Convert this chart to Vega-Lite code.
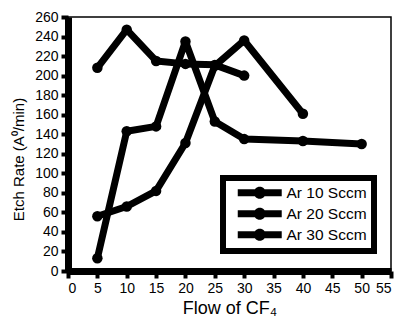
{
  "$schema": "https://vega.github.io/schema/vega-lite/v6.json",
  "autosize": {"type": "none"},
  "padding": {"left": 68, "top": 17, "right": 11, "bottom": 58},
  "width": 323,
  "height": 254,
  "background": "white",
  "config": {
    "font": "Liberation Sans",
    "view": {"stroke": "black", "strokeWidth": 1.5},
    "axis": {"grid": false, "domainColor": "black", "tickColor": "black", "labelColor": "black", "titleColor": "black", "labelFont": "Liberation Sans", "titleFont": "Liberation Sans", "titleFontWeight": "normal"}
  },
  "data": {"values": [
    {"s": "Ar 10 Sccm", "x": 5, "y": 208},
    {"s": "Ar 10 Sccm", "x": 10, "y": 247},
    {"s": "Ar 10 Sccm", "x": 15, "y": 215},
    {"s": "Ar 10 Sccm", "x": 20, "y": 212},
    {"s": "Ar 10 Sccm", "x": 25, "y": 211},
    {"s": "Ar 10 Sccm", "x": 30, "y": 200},
    {"s": "Ar 20 Sccm", "x": 5, "y": 13},
    {"s": "Ar 20 Sccm", "x": 10, "y": 143},
    {"s": "Ar 20 Sccm", "x": 15, "y": 148},
    {"s": "Ar 20 Sccm", "x": 20, "y": 235},
    {"s": "Ar 20 Sccm", "x": 25, "y": 153},
    {"s": "Ar 20 Sccm", "x": 30, "y": 135},
    {"s": "Ar 20 Sccm", "x": 40, "y": 133},
    {"s": "Ar 20 Sccm", "x": 50, "y": 130},
    {"s": "Ar 30 Sccm", "x": 5, "y": 56},
    {"s": "Ar 30 Sccm", "x": 10, "y": 66},
    {"s": "Ar 30 Sccm", "x": 15, "y": 82},
    {"s": "Ar 30 Sccm", "x": 20, "y": 131},
    {"s": "Ar 30 Sccm", "x": 25, "y": 210},
    {"s": "Ar 30 Sccm", "x": 30, "y": 236},
    {"s": "Ar 30 Sccm", "x": 40, "y": 161}
  ]},
  "encoding": {
    "x": {"field": "x", "type": "quantitative", "scale": {"domain": [0, 55], "nice": false, "zero": false},
      "axis": {"values": [0,5,10,15,20,25,30,35,40,45,50,55], "title": "Flow of CF₄", "titleFontSize": 18, "titlePadding": 4, "labelFontSize": 14, "domainWidth": 7, "tickWidth": 4, "tickSize": 7, "labelPadding": 3}},
    "y": {"field": "y", "type": "quantitative", "scale": {"domain": [0, 260], "nice": false},
      "axis": {"values": [0,20,40,60,80,100,120,140,160,180,200,220,240,260], "title": "Etch Rate (A⁰/min)", "titleFontSize": 15, "titlePadding": 8, "titleY": 142, "titleAlign": "center", "labelFontSize": 14, "domainWidth": 7, "tickWidth": 4, "tickSize": 7, "labelPadding": 3}},
    "color": {"field": "s", "type": "nominal", "scale": {"range": ["black", "black", "black"]},
      "legend": {"title": null, "orient": "none", "legendX": 155, "legendY": 161,
        "symbolType": "M0,-0.58H7.33V0.58H0Z M2.67,0A1,1 0 1,1 4.67,0A1,1 0 1,1 2.67,0Z",
        "symbolSize": 144, "symbolFillColor": "black", "symbolStrokeWidth": 0,
        "labelFontSize": 15.5, "labelFont": "Liberation Sans", "labelColor": "black", "labelOffset": 41,
        "labelExpr": "datum.label + '\u2002'",
        "strokeColor": "black", "fillColor": "white", "padding": 7, "rowPadding": 4,
        "encode": {"legend": {"update": {"strokeWidth": {"value": 6}}}, "symbols": {"update": {"fill": {"value": "black"}, "strokeWidth": {"value": 0}}}}}}
  },
  "layer": [
    {"mark": {"type": "line", "strokeWidth": 7, "strokeJoin": "round", "strokeCap": "round"}},
    {"mark": {"type": "point", "filled": true, "size": 110, "opacity": 1, "shape": "circle"}}
  ]
}
